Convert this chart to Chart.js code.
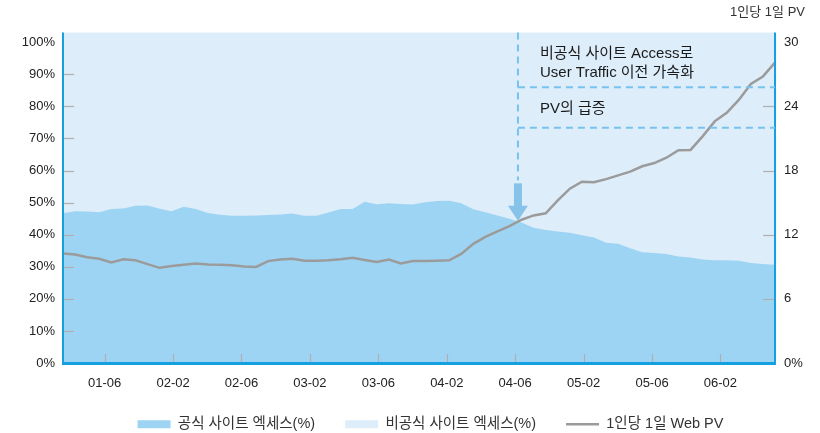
<!DOCTYPE html>
<html><head><meta charset="utf-8">
<script src="https://cdn.jsdelivr.net/npm/chart.js@4.4.1/dist/chart.umd.min.js"></script>
<style>html,body{margin:0;padding:0;background:#fff}#wrap{width:820px;height:433px}</style>
</head><body><div id="wrap"><canvas id="c" width="820" height="433"></canvas></div>
<script>
// ---- data ----
const xTickLabels = ['01-06','02-02','02-06','03-02','03-06','04-02','04-06','05-02','05-06','06-02'];
const leftTicks = [0,10,20,30,40,50,60,70,80,90,100];
const rightTicks = [0,6,12,18,24,30];
const seriesNames = ['공식 사이트 엑세스(%)','비공식 사이트 엑세스(%)','1인당 1일 Web PV'];
const pvAxisTitle = '1인당 1일 PV';
const noteLines = ['비공식 사이트 Access로','User Traffic 이전 가속화','PV의 급증'];

const officialShare = [46.7,47.3,47.2,47.0,48.0,48.2,49.0,49.1,48.1,47.3,
  48.7,48.0,46.8,46.2,45.9,45.9,46.0,46.1,46.3,46.6,
  45.9,45.9,46.9,48.0,48.0,50.3,49.5,49.8,49.6,49.4,
  50.1,50.5,50.6,49.8,47.9,47.0,46.0,45.0,43.8,42.2,
  41.5,41.0,40.6,39.8,39.1,37.5,37.2,35.8,34.5,34.3,
  34.0,33.2,32.9,32.3,32.0,32.0,31.9,31.2,30.9,30.6];
const unofficialShare = [53.3,52.7,52.8,53.0,52.0,51.8,51.0,50.9,51.9,52.7,
  51.3,52.0,53.2,53.8,54.1,54.1,54.0,53.9,53.7,53.4,
  54.1,54.1,53.1,52.0,52.0,49.7,50.5,50.2,50.4,50.6,
  49.9,49.5,49.4,50.2,52.1,53.0,54.0,55.0,56.2,57.8,
  58.5,59.0,59.4,60.2,60.9,62.5,62.8,64.2,65.5,65.7,
  66.0,66.8,67.1,67.7,68.0,68.0,68.1,68.8,69.1,69.4];
const pvPerUser = [10.25,10.15,9.9,9.75,9.4,9.7,9.6,9.25,8.9,9.08,
  9.19,9.31,9.22,9.19,9.15,9.02,8.98,9.53,9.68,9.75,
  9.56,9.56,9.6,9.7,9.84,9.63,9.45,9.68,9.3,9.53,
  9.55,9.57,9.6,10.2,11.14,11.8,12.3,12.8,13.4,13.8,
  14.0,15.2,16.3,16.95,16.9,17.2,17.55,17.9,18.4,18.7,
  19.2,19.9,19.93,21.2,22.6,23.4,24.6,26.1,26.8,28.1];

// ---- layout / style ----
const TICK_FIRST = 3.45, TICK_STEP = 5.67;   // label positions along the point index axis
const NOTE_X = 37.7;                           // annotation position (index units)
const LEGEND_SHIFT = 28;
const DARK = 'rgb(158,212,243)', LIGHT = 'rgb(221,237,250)';
const AXIS = 'rgb(20,160,225)', LINE = 'rgb(155,155,155)', DASH = 'rgb(120,195,238)';
const FONT = "'Liberation Sans', 'Noto Sans CJK KR', sans-serif";
Chart.defaults.font.family = FONT;
Chart.defaults.color = '#222';

const pts = arr => arr.map((v, i) => ({x: i, y: v}));

const decor = {
  id: 'decor',
  afterInit(chart) {
    const lg = chart.legend;
    const orig = lg.fit.bind(lg);
    lg.fit = function() { orig(); this.height = 46; };
  },
  afterLayout(chart) {
    const lg = chart.legend;
    lg.left += LEGEND_SHIFT; lg.right += LEGEND_SHIFT;
  },
  beforeDraw(chart) {
    const {ctx, chartArea: a} = chart;
    ctx.save();
    ctx.fillStyle = LIGHT;
    ctx.fillRect(a.left, a.top, a.right - a.left, a.bottom - a.top);
    ctx.restore();
  },
  afterDatasetsDraw(chart) {
    const {ctx, chartArea: a, scales: {x, y, y1}} = chart;
    const seg = (x0, y0, x1, y1_) => { ctx.beginPath(); ctx.moveTo(x0, y0); ctx.lineTo(x1, y1_); ctx.stroke(); };
    ctx.save();
    // inner tick marks
    ctx.strokeStyle = 'rgb(175,175,175)'; ctx.lineWidth = 1.2;
    y.ticks.forEach(t => { if (t.value > 0 && t.value < 100) { const p = Math.round(y.getPixelForValue(t.value)) + 0.5; seg(a.left, p, a.left + 11, p); } });
    y1.ticks.forEach(t => { if (t.value > 0 && t.value < 30) { const p = Math.round(y1.getPixelForValue(t.value)) + 0.5; seg(a.right - 12, p, a.right, p); } });
    x.ticks.forEach(t => { const p = Math.round(x.getPixelForValue(t.value)) + 0.5; seg(p, a.bottom, p, a.bottom - 9); });
    // axis lines
    ctx.strokeStyle = AXIS;
    ctx.lineWidth = 2;
    seg(a.left, a.top, a.left, a.bottom);
    seg(a.right, a.top, a.right, a.bottom);
    ctx.lineWidth = 3;
    seg(a.left - 1, a.bottom + 0.5, a.right + 1, a.bottom + 0.5);
    // annotation: dashed guides
    const ax = x.getPixelForValue(NOTE_X);
    const shaftTop = y1.getPixelForValue(16.8);
    const headBase = y1.getPixelForValue(14.7);
    const tip = y1.getPixelForValue(13.3);
    ctx.strokeStyle = DASH; ctx.lineWidth = 2; ctx.setLineDash([7, 5]);
    seg(ax, a.top, ax, shaftTop - 3);
    [25.8, 22.0].forEach(v => { const p = y1.getPixelForValue(v); seg(ax, p, a.right, p); });
    ctx.setLineDash([]);
    // arrow
    ctx.fillStyle = 'rgb(135,195,232)';
    ctx.fillRect(ax - 4, shaftTop, 8, headBase - shaftTop + 1);
    ctx.beginPath();
    ctx.moveTo(ax - 10, headBase); ctx.lineTo(ax + 10, headBase); ctx.lineTo(ax, tip); ctx.closePath(); ctx.fill();
    // note text
    ctx.fillStyle = '#1a1a1a';
    ctx.font = '15px ' + FONT;
    ctx.textBaseline = 'middle'; ctx.textAlign = 'left';
    const tx = ax + 22;
    ctx.fillText(noteLines[0], tx, y1.getPixelForValue(28.95));
    ctx.fillText(noteLines[1], tx, y1.getPixelForValue(27.1));
    ctx.fillText(noteLines[2], tx, y1.getPixelForValue(23.8));
    ctx.restore();
  }
};

new Chart(document.getElementById('c'), {
  type: 'line',
  data: {
    datasets: [
      { label: seriesNames[0], data: pts(officialShare), yAxisID: 'y', fill: 'origin', order: 2,
        backgroundColor: DARK, borderColor: DARK, borderWidth: 0, pointRadius: 0, pointStyle: 'rect', tension: 0 },
      { label: seriesNames[1], data: pts(unofficialShare), yAxisID: 'y', fill: '-1', order: 3,
        backgroundColor: LIGHT, borderColor: LIGHT, borderWidth: 0, pointRadius: 0, pointStyle: 'rect', tension: 0 },
      { label: seriesNames[2], data: pts(pvPerUser), yAxisID: 'y1', fill: false, order: 1,
        borderColor: LINE, backgroundColor: LINE, borderWidth: 2.5, pointRadius: 0, pointStyle: 'line', tension: 0 }
    ]
  },
  options: {
    responsive: false, animation: false,
    layout: { padding: { left: 0, right: 15, top: 0, bottom: 0 } },
    plugins: {
      tooltip: { enabled: false },
      title: { display: true, text: pvAxisTitle, align: 'end', color: '#333',
        font: { size: 13, weight: 'normal' }, padding: { top: 5, bottom: 12 } },
      legend: {
        position: 'bottom', align: 'center',
        labels: { usePointStyle: true, pointStyleWidth: 33, boxHeight: 8, padding: 30,
          color: '#333', font: { size: 14.5 },
          sort: (a, b) => a.datasetIndex - b.datasetIndex }
      }
    },
    scales: {
      x: {
        type: 'linear', min: 0, max: pvPerUser.length - 1,
        grid: { display: false, drawTicks: false }, border: { display: false },
        afterBuildTicks: s => { s.ticks = xTickLabels.map((_, i) => ({ value: TICK_FIRST + i * TICK_STEP })); },
        afterFit: s => { s.height = 24; },
        ticks: { autoSkip: false, maxRotation: 0, padding: 13, font: { size: 13 }, color: '#222',
          callback: (v, i) => xTickLabels[i] }
      },
      y: {
        position: 'left', stacked: true, min: 0, max: 103,
        grid: { display: false, drawTicks: false }, border: { display: false },
        afterBuildTicks: s => { s.ticks = leftTicks.map(v => ({ value: v })); },
        afterFit: s => { s.width = 63; },
        ticks: { padding: 8, font: { size: 13 }, color: '#222', callback: v => v + '%' }
      },
      y1: {
        position: 'right', min: 0, max: 30.9,
        grid: { display: false, drawTicks: false }, border: { display: false },
        afterBuildTicks: s => { s.ticks = rightTicks.map(v => ({ value: v })); },
        afterFit: s => { s.width = 30; },
        ticks: { padding: 9, font: { size: 13 }, color: '#222', callback: v => v === 0 ? '0%' : String(v) }
      }
    }
  },
  plugins: [decor]
});
</script>
</body></html>
